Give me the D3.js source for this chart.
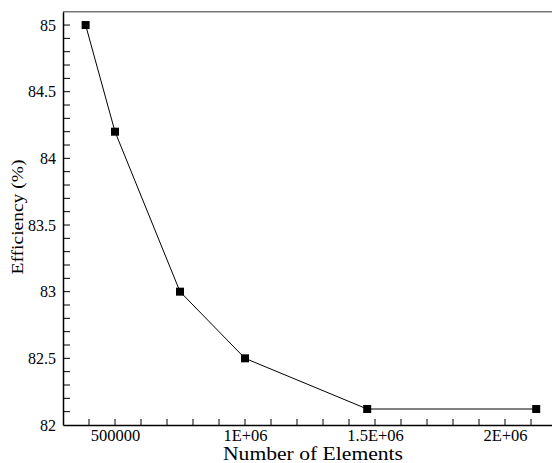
<!DOCTYPE html>
<html><head><meta charset="utf-8">
<script src="https://cdn.jsdelivr.net/npm/d3@7"></script>
<style>html,body{margin:0;padding:0;background:#fff;overflow:hidden}
svg text{font-family:'Liberation Serif','Times New Roman',serif;fill:#000}</style>
</head><body>
<script>
const elements = [387000, 500000, 750000, 1000000, 1470000, 2120000];
const efficiency = [85.0, 84.2, 83.0, 82.5, 82.12, 82.12];
const xTickValues = [500000, 1000000, 1500000, 2000000];
const xTickLabels = ["500000", "1E+06", "1.5E+06", "2E+06"];
const yTickValues = [82, 82.5, 83, 83.5, 84, 84.5, 85];
const yTickLabels = ["82", "82.5", "83", "83.5", "84", "84.5", "85"];
const xTitle = "Number of Elements";
const yTitle = "Efficiency (%)";

const W = 552, H = 463;
const svg = d3.select("body").append("svg").attr("width", W).attr("height", H);

const x = d3.scaleLinear().domain([300000, 2300000]).range([63, 583]);
const y = d3.scaleLinear().domain([82, 85.1]).range([425, 11.7]);

// top border
svg.append("line").attr("x1", 63).attr("x2", W).attr("y1", y(85.1)).attr("y2", y(85.1))
  .attr("stroke", "#777").attr("stroke-width", 1.5);

// minor ticks
const xMinor = d3.range(400000, 2300001, 100000);
svg.append("g").selectAll("line").data(xMinor).join("line")
  .attr("x1", d => x(d)).attr("x2", d => x(d)).attr("y1", 425).attr("y2", 419)
  .attr("stroke", "#000").attr("stroke-width", 1);
const yMinor = d3.range(82.1, 85.05, 0.1);
svg.append("g").selectAll("line").data(yMinor).join("line")
  .attr("x1", 63).attr("x2", 70).attr("y1", d => y(d)).attr("y2", d => y(d))
  .attr("stroke", "#000").attr("stroke-width", 1);

// x axis
const xAxis = svg.append("g").attr("transform", "translate(0,425)")
  .call(d3.axisBottom(x).tickValues(xTickValues).tickSize(0).tickSizeOuter(0).tickPadding(4)
    .tickFormat((d, i) => xTickLabels[i]));
xAxis.attr("font-family", null).attr("font-size", null);
xAxis.select(".domain").attr("stroke-width", 1.5);
xAxis.selectAll("text").style("font-size", "16.5px").style("font-family", "'Liberation Serif', 'Times New Roman', serif");

// y axis
const yAxis = svg.append("g").attr("transform", "translate(63,0)")
  .call(d3.axisLeft(y).tickValues(yTickValues).tickSize(0).tickSizeOuter(0).tickPadding(7)
    .tickFormat((d, i) => yTickLabels[i]));
yAxis.attr("font-family", null).attr("font-size", null);
yAxis.select(".domain").attr("stroke-width", 1.5);
yAxis.selectAll("text").style("font-size", "16px").style("font-family", "'Liberation Serif', 'Times New Roman', serif");

// titles
svg.append("text").attr("x", 313).attr("y", 460).attr("text-anchor", "middle")
  .style("font-size", "18.5px").attr("textLength", 180).attr("lengthAdjust", "spacingAndGlyphs")
  .text(xTitle);
svg.append("text").attr("transform", "translate(23,217) rotate(-90)").attr("text-anchor", "middle")
  .style("font-size", "17px").attr("textLength", 115).attr("lengthAdjust", "spacingAndGlyphs")
  .text(yTitle);

// line + markers
const data = elements.map((e, i) => [e, efficiency[i]]);
svg.append("path").datum(data)
  .attr("fill", "none").attr("stroke", "#000").attr("stroke-width", 1)
  .attr("d", d3.line().x(d => x(d[0])).y(d => y(d[1])));
svg.append("g").selectAll("rect").data(data).join("rect")
  .attr("x", d => x(d[0]) - 4).attr("y", d => y(d[1]) - 4)
  .attr("width", 8).attr("height", 8).attr("fill", "#000");
</script>
</body></html>
